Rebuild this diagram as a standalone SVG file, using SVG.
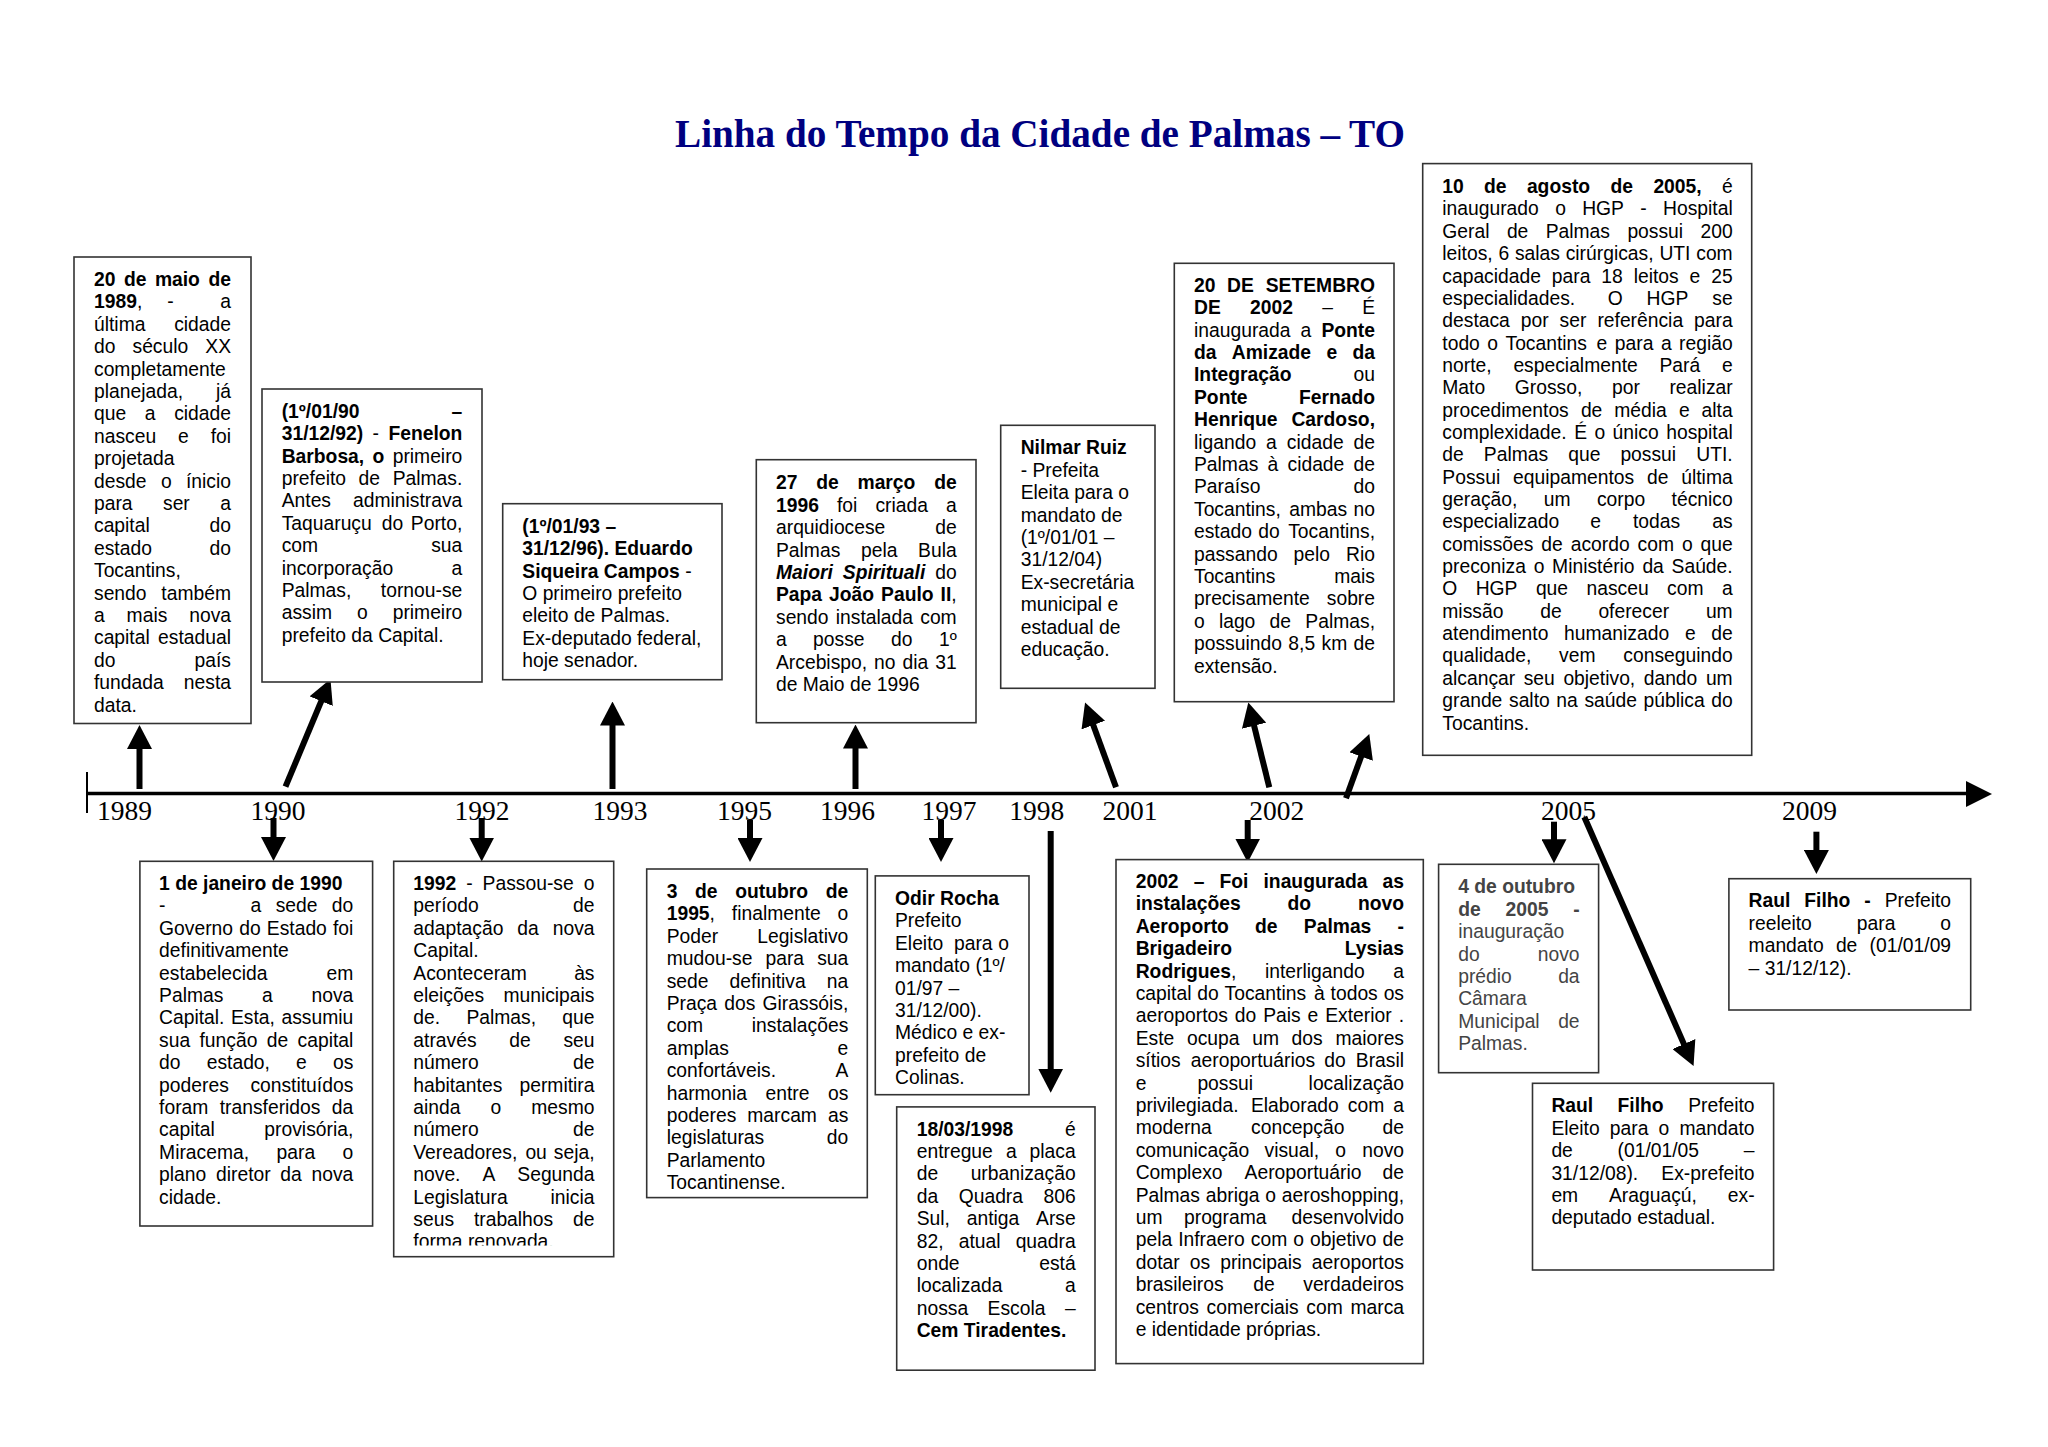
<svg xmlns="http://www.w3.org/2000/svg" width="2048" height="1447" viewBox="0 0 2048 1447">
<style>
text{font-family:"Liberation Sans",Arial,sans-serif;font-size:19.3px;fill:#000}
.b{font-weight:bold}
.bi{font-weight:bold;font-style:italic}
.e{text-anchor:end}
.g text{fill:#444}
.box{fill:#fff;stroke:#333;stroke-width:1.6}
.yr{font-family:"Liberation Serif","Times New Roman",serif;font-size:27.5px;text-anchor:middle}
.title{font-family:"Liberation Serif","Times New Roman",serif;font-size:39px;font-weight:bold;fill:#000080;text-anchor:middle}
.ar{stroke:#000;stroke-width:6;fill:none;marker-end:url(#ah)}
</style>
<defs>
<marker id="ah" markerUnits="userSpaceOnUse" markerWidth="24" markerHeight="25" refX="2" refY="12.5" orient="auto" viewBox="0 0 24 25"><path d="M0,0 L24,12.5 L0,25 z" fill="#000"/></marker>
<clipPath id="clipI"><rect x="393" y="861" width="222" height="384.5"/></clipPath>
</defs>
<rect width="2048" height="1447" fill="#fff"/>
<text class="title" x="1040" y="147" textLength="730" lengthAdjust="spacingAndGlyphs">Linha do Tempo da Cidade de Palmas – TO</text>

<g id="timeline">
<line x1="87" y1="793.5" x2="1968" y2="793.5" stroke="#000" stroke-width="3.5"/>
<polygon points="1966,781 1992,794 1966,807" fill="#000"/>
<line x1="87" y1="772" x2="87" y2="813" stroke="#000" stroke-width="2"/>
<text class="yr" x="124.6" y="819.5">1989</text>
<text class="yr" x="278" y="819.5">1990</text>
<text class="yr" x="482" y="819.5">1992</text>
<text class="yr" x="620" y="819.5">1993</text>
<text class="yr" x="744.5" y="819.5">1995</text>
<text class="yr" x="847.5" y="819.5">1996</text>
<text class="yr" x="949" y="819.5">1997</text>
<text class="yr" x="1036.7" y="819.5">1998</text>
<text class="yr" x="1130" y="819.5">2001</text>
<text class="yr" x="1276.7" y="819.5">2002</text>
<text class="yr" x="1568.6" y="819.5">2005</text>
<text class="yr" x="1809.6" y="819.5">2009</text>
</g>

<g id="connectors">
<line class="ar" x1="139.5" y1="789" x2="139.5" y2="747"/>
<line class="ar" x1="285.5" y1="786.7" x2="322" y2="699.3"/>
<line class="ar" x1="612.5" y1="789" x2="612.5" y2="723.5"/>
<line class="ar" x1="855.5" y1="789" x2="855.5" y2="746.5"/>
<line class="ar" x1="1116" y1="787.3" x2="1092.6" y2="723.2"/>
<line class="ar" x1="1269.3" y1="787.3" x2="1253.6" y2="723.8"/>
<line class="ar" x1="1346" y1="798.3" x2="1361.8" y2="754.7"/>
<line class="ar" x1="273.5" y1="818" x2="273.5" y2="839"/>
<line class="ar" x1="481.7" y1="818" x2="481.7" y2="839.5"/>
<line class="ar" x1="750" y1="820" x2="750" y2="840"/>
<line class="ar" x1="941" y1="820" x2="941" y2="840"/>
<line class="ar" x1="1050.7" y1="831" x2="1050.7" y2="1070.7"/>
<line class="ar" x1="1247.7" y1="820" x2="1247.7" y2="840.5"/>
<line class="ar" x1="1554" y1="821.7" x2="1554" y2="841.3"/>
<line class="ar" x1="1584.3" y1="817" x2="1684.7" y2="1045.9"/>
<line class="ar" x1="1816.4" y1="831.7" x2="1816.4" y2="852"/>
</g>

<g id="box-1989">
<rect class="box" x="74" y="257" width="177" height="466.5"/>
<text y="286"><tspan x="94" class="b">20</tspan><tspan x="123.9" class="b">de</tspan><tspan x="154.9" class="b">maio</tspan><tspan x="231" class="b e">de</tspan></text>
<text y="308.4"><tspan x="94" class="b">1989</tspan>,<tspan x="167.3">-</tspan><tspan x="231" class="e">a</tspan></text>
<text y="330.8"><tspan x="94">última</tspan><tspan x="231" class="e">cidade</tspan></text>
<text y="353.2"><tspan x="94">do</tspan><tspan x="132.5">século</tspan><tspan x="231" class="e">XX</tspan></text>
<text y="375.6" x="94">completamente</text>
<text y="398"><tspan x="94">planejada,</tspan><tspan x="231" class="e">já</tspan></text>
<text y="420.4"><tspan x="94">que</tspan><tspan x="144.8">a</tspan><tspan x="231" class="e">cidade</tspan></text>
<text y="442.8"><tspan x="94">nasceu</tspan><tspan x="178">e</tspan><tspan x="231" class="e">foi</tspan></text>
<text y="465.2" x="94">projetada</text>
<text y="487.6"><tspan x="94">desde</tspan><tspan x="160.9">o</tspan><tspan x="231" class="e">ínicio</tspan></text>
<text y="510"><tspan x="94">para</tspan><tspan x="163">ser</tspan><tspan x="231" class="e">a</tspan></text>
<text y="532.4"><tspan x="94">capital</tspan><tspan x="231" class="e">do</tspan></text>
<text y="554.8"><tspan x="94">estado</tspan><tspan x="231" class="e">do</tspan></text>
<text y="577.2" x="94">Tocantins,</text>
<text y="599.6"><tspan x="94">sendo</tspan><tspan x="231" class="e">também</tspan></text>
<text y="622"><tspan x="94">a</tspan><tspan x="126.6">mais</tspan><tspan x="231" class="e">nova</tspan></text>
<text y="644.4"><tspan x="94">capital</tspan><tspan x="231" class="e">estadual</tspan></text>
<text y="666.8"><tspan x="94">do</tspan><tspan x="231" class="e">país</tspan></text>
<text y="689.2"><tspan x="94">fundada</tspan><tspan x="231" class="e">nesta</tspan></text>
<text y="711.6" x="94">data.</text>
</g>

<g id="box-1990-fenelon">
<rect class="box" x="262" y="389" width="220" height="293"/>
<text y="417.7"><tspan x="281.7" class="b">(1º/01/90</tspan><tspan x="462.3" class="b e">–</tspan></text>
<text y="440.1"><tspan x="281.7" class="b">31/12/92)</tspan><tspan x="372.6">-</tspan><tspan x="462.3" class="b e">Fenelon</tspan></text>
<text y="462.5"><tspan x="281.7" class="b">Barbosa,</tspan><tspan x="372.6" class="b">o</tspan><tspan x="462.3" class="e">primeiro</tspan></text>
<text y="484.9"><tspan x="281.7">prefeito</tspan><tspan x="358.6">de</tspan><tspan x="462.3" class="e">Palmas.</tspan></text>
<text y="507.3"><tspan x="281.7">Antes</tspan><tspan x="462.3" class="e">administrava</tspan></text>
<text y="529.7"><tspan x="281.7">Taquaruçu</tspan><tspan x="381.7">do</tspan><tspan x="462.3" class="e">Porto,</tspan></text>
<text y="552.1"><tspan x="281.7">com</tspan><tspan x="462.3" class="e">sua</tspan></text>
<text y="574.5"><tspan x="281.7">incorporação</tspan><tspan x="462.3" class="e">a</tspan></text>
<text y="596.9"><tspan x="281.7">Palmas,</tspan><tspan x="462.3" class="e">tornou-se</tspan></text>
<text y="619.3"><tspan x="281.7">assim</tspan><tspan x="357">o</tspan><tspan x="462.3" class="e">primeiro</tspan></text>
<text y="641.7" x="281.7">prefeito da Capital.</text>
</g>

<g id="box-1993">
<rect class="box" x="502.7" y="503.7" width="219.3" height="176"/>
<text y="532.7" x="522.3" class="b">(1º/01/93 –</text>
<text y="555.1" x="522.3" class="b">31/12/96). Eduardo</text>
<text y="577.5" x="522.3"><tspan class="b">Siqueira Campos</tspan> -</text>
<text y="599.9" x="522.3">O primeiro prefeito</text>
<text y="622.3" x="522.3">eleito de Palmas.</text>
<text y="644.7" x="522.3">Ex-deputado federal,</text>
<text y="667.1" x="522.3">hoje senador.</text>
</g>

<g id="box-1996">
<rect class="box" x="756.3" y="459.7" width="219.7" height="263"/>
<text y="489.3"><tspan x="776" class="b">27</tspan><tspan x="816.2" class="b">de</tspan><tspan x="857.5" class="b">março</tspan><tspan x="956.7" class="b e">de</tspan></text>
<text y="511.7"><tspan x="776" class="b">1996</tspan><tspan x="837">foi</tspan><tspan x="875.4">criada</tspan><tspan x="956.7" class="e">a</tspan></text>
<text y="534.1"><tspan x="776">arquidiocese</tspan><tspan x="956.7" class="e">de</tspan></text>
<text y="556.5"><tspan x="776">Palmas</tspan><tspan x="861">pela</tspan><tspan x="956.7" class="e">Bula</tspan></text>
<text y="578.9"><tspan x="776" class="bi">Maiori</tspan><tspan x="842.8" class="bi">Spirituali</tspan><tspan x="956.7" class="e">do</tspan></text>
<text y="601.3"><tspan x="776" class="b">Papa</tspan><tspan x="829.1" class="b">João</tspan><tspan x="881.1" class="b">Paulo</tspan><tspan x="956.7" class="e"><tspan class="b">II</tspan>,</tspan></text>
<text y="623.7"><tspan x="776">sendo</tspan><tspan x="835.8">instalada</tspan><tspan x="956.7" class="e">com</tspan></text>
<text y="646.1"><tspan x="776">a</tspan><tspan x="813.1">posse</tspan><tspan x="891">do</tspan><tspan x="956.7" class="e">1º</tspan></text>
<text y="668.5"><tspan x="776">Arcebispo,</tspan><tspan x="874.1">no</tspan><tspan x="902.5">dia</tspan><tspan x="956.7" class="e">31</tspan></text>
<text y="690.9" x="776">de Maio de 1996</text>
</g>

<g id="box-2001">
<rect class="box" x="1000.7" y="425.3" width="154.3" height="263"/>
<text y="454.3" x="1020.7" class="b">Nilmar Ruiz</text>
<text y="476.7" x="1020.7">- Prefeita</text>
<text y="499.1" x="1020.7">Eleita para o</text>
<text y="521.5" x="1020.7">mandato de</text>
<text y="543.9" x="1020.7">(1º/01/01 –</text>
<text y="566.3" x="1020.7">31/12/04)</text>
<text y="588.7" x="1020.7">Ex-secretária</text>
<text y="611.1" x="1020.7">municipal e</text>
<text y="633.5" x="1020.7">estadual de</text>
<text y="655.9" x="1020.7">educação.</text>
</g>

<g id="box-2002-ponte">
<rect class="box" x="1174.3" y="263.3" width="219.7" height="438.4"/>
<text y="291.7"><tspan x="1194" class="b">20</tspan><tspan x="1227.1" class="b">DE</tspan><tspan x="1375" class="b e">SETEMBRO</tspan></text>
<text y="314.1"><tspan x="1194" class="b">DE</tspan><tspan x="1250" class="b">2002</tspan><tspan x="1322.2">–</tspan><tspan x="1375" class="e">É</tspan></text>
<text y="336.5"><tspan x="1194">inaugurada</tspan><tspan x="1300.6">a</tspan><tspan x="1375" class="b e">Ponte</tspan></text>
<text y="358.9"><tspan x="1194" class="b">da</tspan><tspan x="1231.8" class="b">Amizade</tspan><tspan x="1326.5" class="b">e</tspan><tspan x="1375" class="b e">da</tspan></text>
<text y="381.3"><tspan x="1194" class="b">Integração</tspan><tspan x="1375" class="e">ou</tspan></text>
<text y="403.7"><tspan x="1194" class="b">Ponte</tspan><tspan x="1375" class="b e">Fernado</tspan></text>
<text y="426.1"><tspan x="1194" class="b">Henrique</tspan><tspan x="1375" class="b e">Cardoso,</tspan></text>
<text y="448.5"><tspan x="1194">ligando</tspan><tspan x="1266.1">a</tspan><tspan x="1286.8">cidade</tspan><tspan x="1375" class="e">de</tspan></text>
<text y="470.9"><tspan x="1194">Palmas</tspan><tspan x="1267.5">à</tspan><tspan x="1287.5">cidade</tspan><tspan x="1375" class="e">de</tspan></text>
<text y="493.3"><tspan x="1194">Paraíso</tspan><tspan x="1375" class="e">do</tspan></text>
<text y="515.7"><tspan x="1194">Tocantins,</tspan><tspan x="1289.3">ambas</tspan><tspan x="1375" class="e">no</tspan></text>
<text y="538.1"><tspan x="1194">estado</tspan><tspan x="1258.2">do</tspan><tspan x="1375" class="e">Tocantins,</tspan></text>
<text y="560.5"><tspan x="1194">passando</tspan><tspan x="1293.6">pelo</tspan><tspan x="1375" class="e">Rio</tspan></text>
<text y="582.9"><tspan x="1194">Tocantins</tspan><tspan x="1375" class="e">mais</tspan></text>
<text y="605.3"><tspan x="1194">precisamente</tspan><tspan x="1375" class="e">sobre</tspan></text>
<text y="627.7"><tspan x="1194">o</tspan><tspan x="1218.9">lago</tspan><tspan x="1269.6">de</tspan><tspan x="1375" class="e">Palmas,</tspan></text>
<text y="650.1"><tspan x="1194">possuindo</tspan><tspan x="1288.3">8,5</tspan><tspan x="1321.5">km</tspan><tspan x="1375" class="e">de</tspan></text>
<text y="672.5" x="1194">extensão.</text>
</g>

<g id="box-2005-hgp">
<rect class="box" x="1422.7" y="163.6" width="329" height="591.7"/>
<text y="193.1"><tspan x="1442.3" class="b">10</tspan><tspan x="1484.1" class="b">de</tspan><tspan x="1526.9" class="b">agosto</tspan><tspan x="1610.5" class="b">de</tspan><tspan x="1653.4" class="b">2005,</tspan><tspan x="1732.7" class="e">é</tspan></text>
<text y="215.45"><tspan x="1442.3">inaugurado</tspan><tspan x="1555.2">o</tspan><tspan x="1582.2">HGP</tspan><tspan x="1640.3">-</tspan><tspan x="1732.7" class="e">Hospital</tspan></text>
<text y="237.8"><tspan x="1442.3">Geral</tspan><tspan x="1506.9">de</tspan><tspan x="1545.7">Palmas</tspan><tspan x="1627.4">possui</tspan><tspan x="1732.7" class="e">200</tspan></text>
<text y="260.15"><tspan x="1442.3">leitos,</tspan><tspan x="1498.5">6</tspan><tspan x="1514.9">salas</tspan><tspan x="1565.7">cirúrgicas,</tspan><tspan x="1659.4">UTI</tspan><tspan x="1732.7" class="e">com</tspan></text>
<text y="282.5"><tspan x="1442.3">capacidade</tspan><tspan x="1551.8">para</tspan><tspan x="1601.3">18</tspan><tspan x="1633.7">leitos</tspan><tspan x="1689.6">e</tspan><tspan x="1732.7" class="e">25</tspan></text>
<text y="304.85"><tspan x="1442.3">especialidades.</tspan><tspan x="1607.7">O</tspan><tspan x="1646.6">HGP</tspan><tspan x="1732.7" class="e">se</tspan></text>
<text y="327.2"><tspan x="1442.3">destaca</tspan><tspan x="1520.8">por</tspan><tspan x="1559.6">ser</tspan><tspan x="1597.4">referência</tspan><tspan x="1732.7" class="e">para</tspan></text>
<text y="349.55"><tspan x="1442.3">todo</tspan><tspan x="1487.3">o</tspan><tspan x="1505.5">Tocantins</tspan><tspan x="1596.6">e</tspan><tspan x="1614.8">para</tspan><tspan x="1660.9">a</tspan><tspan x="1732.7" class="e">região</tspan></text>
<text y="371.9"><tspan x="1442.3">norte,</tspan><tspan x="1513.4">especialmente</tspan><tspan x="1659.5">Pará</tspan><tspan x="1732.7" class="e">e</tspan></text>
<text y="394.25"><tspan x="1442.3">Mato</tspan><tspan x="1514.8">Grosso,</tspan><tspan x="1612">por</tspan><tspan x="1732.7" class="e">realizar</tspan></text>
<text y="416.6"><tspan x="1442.3">procedimentos</tspan><tspan x="1580.9">de</tspan><tspan x="1614.3">média</tspan><tspan x="1678.9">e</tspan><tspan x="1732.7" class="e">alta</tspan></text>
<text y="438.95"><tspan x="1442.3">complexidade.</tspan><tspan x="1574.2">É</tspan><tspan x="1594.5">o</tspan><tspan x="1612.6">único</tspan><tspan x="1732.7" class="e">hospital</tspan></text>
<text y="461.3"><tspan x="1442.3">de</tspan><tspan x="1483.8">Palmas</tspan><tspan x="1568.2">que</tspan><tspan x="1620.4">possui</tspan><tspan x="1732.7" class="e">UTI.</tspan></text>
<text y="483.65"><tspan x="1442.3">Possui</tspan><tspan x="1513">equipamentos</tspan><tspan x="1647">de</tspan><tspan x="1732.7" class="e">última</tspan></text>
<text y="506"><tspan x="1442.3">geração,</tspan><tspan x="1543.8">um</tspan><tspan x="1596.9">corpo</tspan><tspan x="1732.7" class="e">técnico</tspan></text>
<text y="528.35"><tspan x="1442.3">especializado</tspan><tspan x="1590.2">e</tspan><tspan x="1633">todas</tspan><tspan x="1732.7" class="e">as</tspan></text>
<text y="550.7"><tspan x="1442.3">comissões</tspan><tspan x="1541.3">de</tspan><tspan x="1570.7">acordo</tspan><tspan x="1637.6">com</tspan><tspan x="1681.9">o</tspan><tspan x="1732.7" class="e">que</tspan></text>
<text y="573.05"><tspan x="1442.3">preconiza</tspan><tspan x="1533.7">o</tspan><tspan x="1552.1">Ministério</tspan><tspan x="1642.4">da</tspan><tspan x="1732.7" class="e">Saúde.</tspan></text>
<text y="595.4"><tspan x="1442.3">O</tspan><tspan x="1475.7">HGP</tspan><tspan x="1535.9">que</tspan><tspan x="1586.5">nasceu</tspan><tspan x="1667.1">com</tspan><tspan x="1732.7" class="e">a</tspan></text>
<text y="617.75"><tspan x="1442.3">missão</tspan><tspan x="1540.2">de</tspan><tspan x="1598.4">oferecer</tspan><tspan x="1732.7" class="e">um</tspan></text>
<text y="640.1"><tspan x="1442.3">atendimento</tspan><tspan x="1564.1">humanizado</tspan><tspan x="1684.9">e</tspan><tspan x="1732.7" class="e">de</tspan></text>
<text y="662.45"><tspan x="1442.3">qualidade,</tspan><tspan x="1559.1">vem</tspan><tspan x="1732.7" class="e">conseguindo</tspan></text>
<text y="684.8"><tspan x="1442.3">alcançar</tspan><tspan x="1523.7">seu</tspan><tspan x="1563.4">objetivo,</tspan><tspan x="1643.7">dando</tspan><tspan x="1732.7" class="e">um</tspan></text>
<text y="707.15"><tspan x="1442.3">grande</tspan><tspan x="1509">salto</tspan><tspan x="1556.3">na</tspan><tspan x="1584.4">saúde</tspan><tspan x="1643.5">pública</tspan><tspan x="1732.7" class="e">do</tspan></text>
<text y="729.5" x="1442.3">Tocantins.</text>
</g>

<g id="box-1990-governo">
<rect class="box" x="139.9" y="861.3" width="232.7" height="364.7"/>
<text y="890" x="159.1" class="b">1 de janeiro de 1990</text>
<text y="912.4"><tspan x="159.1">-</tspan><tspan x="250.5">a</tspan><tspan x="275.7">sede</tspan><tspan x="353.3" class="e">do</tspan></text>
<text y="934.8"><tspan x="159.1">Governo</tspan><tspan x="239.2">do</tspan><tspan x="266.8">Estado</tspan><tspan x="353.3" class="e">foi</tspan></text>
<text y="957.2" x="159.1">definitivamente</text>
<text y="979.6"><tspan x="159.1">estabelecida</tspan><tspan x="353.3" class="e">em</tspan></text>
<text y="1002"><tspan x="159.1">Palmas</tspan><tspan x="262.1">a</tspan><tspan x="353.3" class="e">nova</tspan></text>
<text y="1024.4"><tspan x="159.1">Capital.</tspan><tspan x="231">Esta,</tspan><tspan x="353.3" class="e">assumiu</tspan></text>
<text y="1046.8"><tspan x="159.1">sua</tspan><tspan x="199.5">função</tspan><tspan x="266.8">de</tspan><tspan x="353.3" class="e">capital</tspan></text>
<text y="1069.2"><tspan x="159.1">do</tspan><tspan x="206.7">estado,</tspan><tspan x="296.1">e</tspan><tspan x="353.3" class="e">os</tspan></text>
<text y="1091.6"><tspan x="159.1">poderes</tspan><tspan x="353.3" class="e">constituídos</tspan></text>
<text y="1114"><tspan x="159.1">foram</tspan><tspan x="219.7">transferidos</tspan><tspan x="353.3" class="e">da</tspan></text>
<text y="1136.4"><tspan x="159.1">capital</tspan><tspan x="353.3" class="e">provisória,</tspan></text>
<text y="1158.8"><tspan x="159.1">Miracema,</tspan><tspan x="276.6">para</tspan><tspan x="353.3" class="e">o</tspan></text>
<text y="1181.2"><tspan x="159.1">plano</tspan><tspan x="216">diretor</tspan><tspan x="280.3">da</tspan><tspan x="353.3" class="e">nova</tspan></text>
<text y="1203.6" x="159.1">cidade.</text>
</g>

<g id="box-1992">
<rect class="box" x="393.7" y="861.3" width="220" height="395.4"/>
<g clip-path="url(#clipI)">
<text y="890"><tspan x="413.3" class="b">1992</tspan><tspan x="466.2">-</tspan><tspan x="482.6">Passou-se</tspan><tspan x="594.5" class="e">o</tspan></text>
<text y="912.4"><tspan x="413.3">período</tspan><tspan x="594.5" class="e">de</tspan></text>
<text y="934.8"><tspan x="413.3">adaptação</tspan><tspan x="517.3">da</tspan><tspan x="594.5" class="e">nova</tspan></text>
<text y="957.2" x="413.3">Capital.</text>
<text y="979.6"><tspan x="413.3">Aconteceram</tspan><tspan x="594.5" class="e">às</tspan></text>
<text y="1002"><tspan x="413.3">eleições</tspan><tspan x="594.5" class="e">municipais</tspan></text>
<text y="1024.4"><tspan x="413.3">de.</tspan><tspan x="466.4">Palmas,</tspan><tspan x="594.5" class="e">que</tspan></text>
<text y="1046.8"><tspan x="413.3">através</tspan><tspan x="509.3">de</tspan><tspan x="594.5" class="e">seu</tspan></text>
<text y="1069.2"><tspan x="413.3">número</tspan><tspan x="594.5" class="e">de</tspan></text>
<text y="1091.6"><tspan x="413.3">habitantes</tspan><tspan x="594.5" class="e">permitira</tspan></text>
<text y="1114"><tspan x="413.3">ainda</tspan><tspan x="490.5">o</tspan><tspan x="594.5" class="e">mesmo</tspan></text>
<text y="1136.4"><tspan x="413.3">número</tspan><tspan x="594.5" class="e">de</tspan></text>
<text y="1158.8"><tspan x="413.3">Vereadores,</tspan><tspan x="525.4">ou</tspan><tspan x="594.5" class="e">seja,</tspan></text>
<text y="1181.2"><tspan x="413.3">nove.</tspan><tspan x="482.4">A</tspan><tspan x="594.5" class="e">Segunda</tspan></text>
<text y="1203.6"><tspan x="413.3">Legislatura</tspan><tspan x="594.5" class="e">inicia</tspan></text>
<text y="1226"><tspan x="413.3">seus</tspan><tspan x="473.9">trabalhos</tspan><tspan x="594.5" class="e">de</tspan></text>
<text y="1248.4" x="413.3">forma renovada.</text>
</g>
</g>

<g id="box-1995">
<rect class="box" x="646.7" y="869" width="220.6" height="328.6"/>
<text y="898"><tspan x="666.7" class="b">3</tspan><tspan x="695.1" class="b">de</tspan><tspan x="735.2" class="b">outubro</tspan><tspan x="848.3" class="b e">de</tspan></text>
<text y="920.4"><tspan x="666.7" class="b">1995</tspan>,<tspan x="731.8">finalmente</tspan><tspan x="848.3" class="e">o</tspan></text>
<text y="942.8"><tspan x="666.7">Poder</tspan><tspan x="848.3" class="e">Legislativo</tspan></text>
<text y="965.2"><tspan x="666.7">mudou-se</tspan><tspan x="765.5">para</tspan><tspan x="848.3" class="e">sua</tspan></text>
<text y="987.6"><tspan x="666.7">sede</tspan><tspan x="729.6">definitiva</tspan><tspan x="848.3" class="e">na</tspan></text>
<text y="1010"><tspan x="666.7">Praça</tspan><tspan x="724.3">dos</tspan><tspan x="848.3" class="e">Girassóis,</tspan></text>
<text y="1032.4"><tspan x="666.7">com</tspan><tspan x="848.3" class="e">instalações</tspan></text>
<text y="1054.8"><tspan x="666.7">amplas</tspan><tspan x="848.3" class="e">e</tspan></text>
<text y="1077.2"><tspan x="666.7">confortáveis.</tspan><tspan x="848.3" class="e">A</tspan></text>
<text y="1099.6"><tspan x="666.7">harmonia</tspan><tspan x="765.5">entre</tspan><tspan x="848.3" class="e">os</tspan></text>
<text y="1122"><tspan x="666.7">poderes</tspan><tspan x="747.3">marcam</tspan><tspan x="848.3" class="e">as</tspan></text>
<text y="1144.4"><tspan x="666.7">legislaturas</tspan><tspan x="848.3" class="e">do</tspan></text>
<text y="1166.8" x="666.7">Parlamento</text>
<text y="1189.2" x="666.7">Tocantinense.</text>
</g>

<g id="box-1997">
<rect class="box" x="875.3" y="875.9" width="153.7" height="218.8"/>
<text y="904.9" x="895" class="b">Odir Rocha</text>
<text y="927.3" x="895">Prefeito</text>
<text y="949.7"><tspan x="895">Eleito</tspan><tspan x="954">para</tspan><tspan x="998.3">o</tspan></text>
<text y="972.1" x="895">mandato (1º/</text>
<text y="994.5" x="895">01/97 –</text>
<text y="1016.9" x="895">31/12/00).</text>
<text y="1039.3" x="895">Médico e ex-</text>
<text y="1061.7" x="895">prefeito de</text>
<text y="1084.1" x="895">Colinas.</text>
</g>

<g id="box-1998">
<rect class="box" x="896.7" y="1106.9" width="198.3" height="263.3"/>
<text y="1135.5"><tspan x="916.7" class="b">18/03/1998</tspan><tspan x="1075.7" class="e">é</tspan></text>
<text y="1157.9"><tspan x="916.7">entregue</tspan><tspan x="1005.9">a</tspan><tspan x="1075.7" class="e">placa</tspan></text>
<text y="1180.3"><tspan x="916.7">de</tspan><tspan x="1075.7" class="e">urbanização</tspan></text>
<text y="1202.7"><tspan x="916.7">da</tspan><tspan x="958.7">Quadra</tspan><tspan x="1075.7" class="e">806</tspan></text>
<text y="1225.1"><tspan x="916.7">Sul,</tspan><tspan x="966.7">antiga</tspan><tspan x="1075.7" class="e">Arse</tspan></text>
<text y="1247.5"><tspan x="916.7">82,</tspan><tspan x="958.7">atual</tspan><tspan x="1075.7" class="e">quadra</tspan></text>
<text y="1269.9"><tspan x="916.7">onde</tspan><tspan x="1075.7" class="e">está</tspan></text>
<text y="1292.3"><tspan x="916.7">localizada</tspan><tspan x="1075.7" class="e">a</tspan></text>
<text y="1314.7"><tspan x="916.7">nossa</tspan><tspan x="987.6">Escola</tspan><tspan x="1075.7" class="e">–</tspan></text>
<text y="1337.1" x="916.7" class="b">Cem Tiradentes.</text>
</g>

<g id="box-2002-aeroporto">
<rect class="box" x="1116" y="859.6" width="307.3" height="504"/>
<text y="887.9"><tspan x="1135.7" class="b">2002</tspan><tspan x="1193.7" class="b">–</tspan><tspan x="1219.5" class="b">Foi</tspan><tspan x="1263.5" class="b">inaugurada</tspan><tspan x="1404" class="b e">as</tspan></text>
<text y="910.3"><tspan x="1135.7" class="b">instalações</tspan><tspan x="1287.6" class="b">do</tspan><tspan x="1404" class="b e">novo</tspan></text>
<text y="932.7"><tspan x="1135.7" class="b">Aeroporto</tspan><tspan x="1255.1" class="b">de</tspan><tspan x="1303.8" class="b">Palmas</tspan><tspan x="1404" class="b e">-</tspan></text>
<text y="955.1"><tspan x="1135.7" class="b">Brigadeiro</tspan><tspan x="1404" class="b e">Lysias</tspan></text>
<text y="977.5"><tspan x="1135.7" class="b">Rodrigues</tspan>,<tspan x="1265">interligando</tspan><tspan x="1404" class="e">a</tspan></text>
<text y="999.9"><tspan x="1135.7">capital</tspan><tspan x="1197.3">do</tspan><tspan x="1224.6">Tocantins</tspan><tspan x="1314">à</tspan><tspan x="1330.6">todos</tspan><tspan x="1404" class="e">os</tspan></text>
<text y="1022.3"><tspan x="1135.7">aeroportos</tspan><tspan x="1234.8">do</tspan><tspan x="1263.2">Pais</tspan><tspan x="1307.6">e</tspan><tspan x="1325.2">Exterior</tspan><tspan x="1404" class="e">.</tspan></text>
<text y="1044.7"><tspan x="1135.7">Este</tspan><tspan x="1187">ocupa</tspan><tspan x="1252.2">um</tspan><tspan x="1291.6">dos</tspan><tspan x="1404" class="e">maiores</tspan></text>
<text y="1067.1"><tspan x="1135.7">sítios</tspan><tspan x="1190.8">aeroportuários</tspan><tspan x="1324.2">do</tspan><tspan x="1404" class="e">Brasil</tspan></text>
<text y="1089.5"><tspan x="1135.7">e</tspan><tspan x="1197.4">possui</tspan><tspan x="1404" class="e">localização</tspan></text>
<text y="1111.9"><tspan x="1135.7">privilegiada.</tspan><tspan x="1250.9">Elaborado</tspan><tspan x="1347.8">com</tspan><tspan x="1404" class="e">a</tspan></text>
<text y="1134.3"><tspan x="1135.7">moderna</tspan><tspan x="1251.1">concepção</tspan><tspan x="1404" class="e">de</tspan></text>
<text y="1156.7"><tspan x="1135.7">comunicação</tspan><tspan x="1264.5">visual,</tspan><tspan x="1335.3">o</tspan><tspan x="1404" class="e">novo</tspan></text>
<text y="1179.1"><tspan x="1135.7">Complexo</tspan><tspan x="1244.6">Aeroportuário</tspan><tspan x="1404" class="e">de</tspan></text>
<text y="1201.5"><tspan x="1135.7">Palmas</tspan><tspan x="1205.8">abriga</tspan><tspan x="1265.2">o</tspan><tspan x="1404" class="e">aeroshopping,</tspan></text>
<text y="1223.9"><tspan x="1135.7">um</tspan><tspan x="1184">programa</tspan><tspan x="1404" class="e">desenvolvido</tspan></text>
<text y="1246.3"><tspan x="1135.7">pela</tspan><tspan x="1178.2">Infraero</tspan><tspan x="1250.8">com</tspan><tspan x="1293.2">o</tspan><tspan x="1310">objetivo</tspan><tspan x="1404" class="e">de</tspan></text>
<text y="1268.7"><tspan x="1135.7">dotar</tspan><tspan x="1189.7">os</tspan><tspan x="1220.2">principais</tspan><tspan x="1404" class="e">aeroportos</tspan></text>
<text y="1291.1"><tspan x="1135.7">brasileiros</tspan><tspan x="1253.2">de</tspan><tspan x="1404" class="e">verdadeiros</tspan></text>
<text y="1313.5"><tspan x="1135.7">centros</tspan><tspan x="1206.6">comerciais</tspan><tspan x="1306.3">com</tspan><tspan x="1404" class="e">marca</tspan></text>
<text y="1335.9" x="1135.7">e identidade próprias.</text>
</g>

<g id="box-2005-camara" class="g">
<rect class="box" x="1438.6" y="864.3" width="160" height="208.4"/>
<text y="893.3" x="1458.2" class="b">4 de outubro</text>
<text y="915.7"><tspan x="1458.2" class="b">de</tspan><tspan x="1505.5" class="b">2005</tspan><tspan x="1579.6" class="b e">-</tspan></text>
<text y="938.1" x="1458.2">inauguração</text>
<text y="960.5"><tspan x="1458.2">do</tspan><tspan x="1579.6" class="e">novo</tspan></text>
<text y="982.9"><tspan x="1458.2">prédio</tspan><tspan x="1579.6" class="e">da</tspan></text>
<text y="1005.3" x="1458.2">Câmara</text>
<text y="1027.7"><tspan x="1458.2">Municipal</tspan><tspan x="1579.6" class="e">de</tspan></text>
<text y="1050.1" x="1458.2">Palmas.</text>
</g>

<g id="box-2005-raul">
<rect class="box" x="1532.5" y="1083.3" width="241.1" height="186.7"/>
<text y="1112.3"><tspan x="1551.4" class="b">Raul</tspan><tspan x="1617.6" class="b">Filho</tspan><tspan x="1754.6" class="e">Prefeito</tspan></text>
<text y="1134.7"><tspan x="1551.4">Eleito</tspan><tspan x="1609.8">para</tspan><tspan x="1658.6">o</tspan><tspan x="1754.6" class="e">mandato</tspan></text>
<text y="1157.1"><tspan x="1551.4">de</tspan><tspan x="1617.6">(01/01/05</tspan><tspan x="1754.6" class="e">–</tspan></text>
<text y="1179.5"><tspan x="1551.4">31/12/08).</tspan><tspan x="1754.6" class="e">Ex-prefeito</tspan></text>
<text y="1201.9"><tspan x="1551.4">em</tspan><tspan x="1609">Araguaçú,</tspan><tspan x="1754.6" class="e">ex-</tspan></text>
<text y="1224.3" x="1551.4">deputado estadual.</text>
</g>

<g id="box-2009">
<rect class="box" x="1728.9" y="878.7" width="241.8" height="131.3"/>
<text y="907.3"><tspan x="1748.6" class="b">Raul</tspan><tspan x="1804.3" class="b">Filho</tspan><tspan x="1864.3" class="b">-</tspan><tspan x="1951.1" class="e">Prefeito</tspan></text>
<text y="929.7"><tspan x="1748.6">reeleito</tspan><tspan x="1856.8">para</tspan><tspan x="1951.1" class="e">o</tspan></text>
<text y="952.1"><tspan x="1748.6">mandato</tspan><tspan x="1835.9">de</tspan><tspan x="1951.1" class="e">(01/01/09</tspan></text>
<text y="974.5" x="1748.6">– 31/12/12).</text>
</g>
</svg>
